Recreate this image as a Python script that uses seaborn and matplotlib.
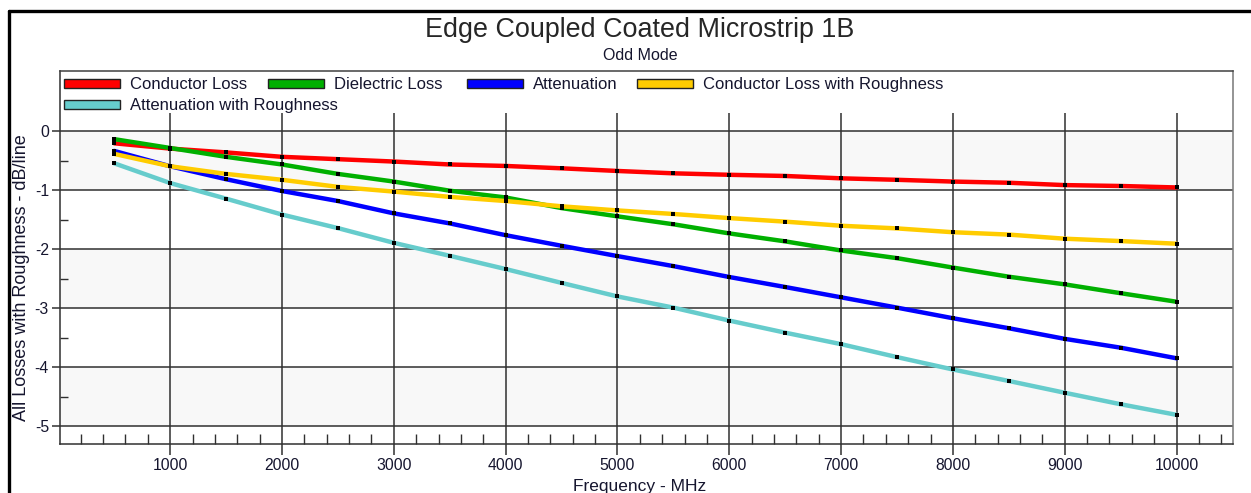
import pandas as pd
import matplotlib
matplotlib.use("Agg")
import matplotlib.pyplot as plt
from matplotlib.patches import Rectangle
from matplotlib.lines import Line2D
from matplotlib.ticker import FixedLocator, MultipleLocator
import seaborn as sns

# values (dB/line)
freq_mhz = [500, 1000, 1500, 2000, 2500, 3000, 3500, 4000, 4500, 5000,
            5500, 6000, 6500, 7000, 7500, 8000, 8500, 9000, 9500, 10000]
conductor_loss = [-0.20, -0.29, -0.355, -0.43, -0.47, -0.51, -0.56, -0.585, -0.625, -0.67,
                  -0.71, -0.735, -0.755, -0.795, -0.82, -0.85, -0.87, -0.91, -0.925, -0.95]
dielectric_loss = [-0.13, -0.28, -0.43, -0.56, -0.72, -0.85, -1.005, -1.12, -1.30, -1.44,
                   -1.575, -1.73, -1.865, -2.02, -2.15, -2.31, -2.465, -2.595, -2.745, -2.89]
attenuation = [-0.33, -0.59, -0.81, -1.01, -1.18, -1.39, -1.56, -1.76, -1.94, -2.115,
               -2.285, -2.47, -2.64, -2.815, -2.99, -3.17, -3.34, -3.52, -3.67, -3.85]
conductor_rough = [-0.38, -0.59, -0.72, -0.82, -0.94, -1.02, -1.11, -1.18, -1.27, -1.34,
                   -1.40, -1.47, -1.53, -1.60, -1.645, -1.71, -1.75, -1.82, -1.86, -1.905]
attenuation_rough = [-0.54, -0.875, -1.14, -1.41, -1.64, -1.89, -2.11, -2.335, -2.57, -2.80,
                     -2.99, -3.21, -3.415, -3.61, -3.83, -4.04, -4.235, -4.435, -4.63, -4.81]

series_names = ["Conductor Loss", "Dielectric Loss", "Attenuation",
                "Conductor Loss with Roughness", "Attenuation with Roughness"]
series_values = [conductor_loss, dielectric_loss, attenuation, conductor_rough, attenuation_rough]
series_colors = ["#ff0000", "#00b000", "#0000ff", "#ffcc00", "#66cccc"]

x_ticks = [1000, 2000, 3000, 4000, 5000, 6000, 7000, 8000, 9000, 10000]
x_tick_labels = [str(v) for v in x_ticks]
y_ticks = [0, -1, -2, -3, -4, -5]
y_tick_labels = ["0", "-1", "-2", "-3", "-4", "-5"]

df = pd.DataFrame({
    "Frequency": freq_mhz * len(series_names),
    "Loss": sum(series_values, []),
    "Series": [n for n in series_names for _ in freq_mhz],
})

sns.set_theme(style="white")
plt.rcParams['font.family'] = ['Liberation Sans', 'DejaVu Sans']
plt.rcParams['axes.unicode_minus'] = False

W, H = 1251, 493


def fx(px):
    return px / W


def fy(py):
    return 1 - py / H


fig = plt.figure(figsize=(W / 100, H / 100), dpi=100)
fig.patch.set_facecolor("white")
ax = fig.add_axes([fx(60), fy(444), (1233 - 60) / W, (444 - 71) / H])
ax.set_facecolor("white")

ymin, ymax = -5.305, 1.027
ax.set_xlim(15, 10505)
ax.set_ylim(ymin, ymax)

# alternating bands
for lo, hi in [(-1, 0), (-3, -2), (-5, -4)]:
    ax.axhspan(lo, hi, color="#f8f8f8", lw=0, zorder=0)

# grid
grid_c = "#303030"
for v in y_ticks:
    ax.axhline(v, color=grid_c, lw=1.1, zorder=1)
ax.vlines(x_ticks, ymin, 0.31, color=grid_c, lw=1.1, zorder=1)

# lines + point markers
palette = dict(zip(series_names, series_colors))
sns.lineplot(data=df, x="Frequency", y="Loss", hue="Series", hue_order=series_names,
             palette=palette, linewidth=3.2, legend=False, ax=ax, zorder=3)
for name in series_names:
    sub = df[df["Series"] == name]
    sns.scatterplot(data=sub, x="Frequency", y="Loss", color="black", marker="s",
                    s=5, linewidth=0, legend=False, ax=ax, zorder=4)

# ticks
ax.set_xticks(x_ticks)
ax.set_xticklabels(x_tick_labels)
ax.xaxis.set_minor_locator(MultipleLocator(200))
ax.set_yticks(y_ticks)
ax.set_yticklabels(y_tick_labels)
ax.yaxis.set_minor_locator(FixedLocator([-0.5, -1.5, -2.5, -3.5, -4.5]))
ax.tick_params(axis="x", which="major", direction="out", length=8, width=1.1, color=grid_c,
               pad=2, labelsize=11.3, labelcolor="#15152e", bottom=True)
ax.tick_params(axis="x", which="minor", direction="in", length=7, width=1, color=grid_c, bottom=True)
ax.tick_params(axis="y", which="major", direction="out", length=6, width=1.1, color=grid_c,
               pad=2, labelsize=11.3, labelcolor="#15152e", left=True)
ax.tick_params(axis="y", which="minor", direction="in", length=6, width=1, color=grid_c, left=True)
ax.set_xlabel("")
ax.set_ylabel("")

for side, col in [("left", "#303030"), ("bottom", "#303030"), ("top", "#404040"), ("right", "#777777")]:
    ax.spines[side].set_visible(True)
    ax.spines[side].set_color(col)
    ax.spines[side].set_linewidth(1.1)

# legend (flow layout like the original)
legend_pos = [(64, 83), (268, 83), (467, 83), (637, 83), (64, 104)]
for (lx, ly), name, col in zip(legend_pos, series_names, series_colors):
    fig.add_artist(Rectangle((fx(lx), fy(ly + 4.5)), 56 / W, 9 / H, facecolor=col,
                             edgecolor="#222222", lw=1, transform=fig.transFigure))
    fig.text(fx(lx + 66), fy(ly + 6), name, ha="left", va="baseline", fontsize=12, color="#15152e")

# titles and labels
fig.text(fx(640), fy(30), "Edge Coupled Coated Microstrip 1B", ha="center", va="center", fontsize=19.4)
fig.text(fx(640), fy(55), "Odd Mode", ha="center", va="center", fontsize=11.5, color="#15152e")
fig.text(fx(22), fy(278), "All Losses with Roughness - dB/line", rotation=90,
         ha="center", va="center", fontsize=13, color="#15152e")
fig.text(fx(640), fy(486), "Frequency - MHz", ha="center", va="center", fontsize=12.5, color="#15152e")

# outer frame (left and top edges visible)
fig.add_artist(Line2D([fx(8.5), fx(8.5)], [fy(10.5), 0], color="black", lw=2.4, transform=fig.transFigure))
fig.add_artist(Line2D([fx(8.5), 1], [fy(10.5), fy(10.5)], color="black", lw=2.4, transform=fig.transFigure))

fig.savefig("out.png", dpi=100)
